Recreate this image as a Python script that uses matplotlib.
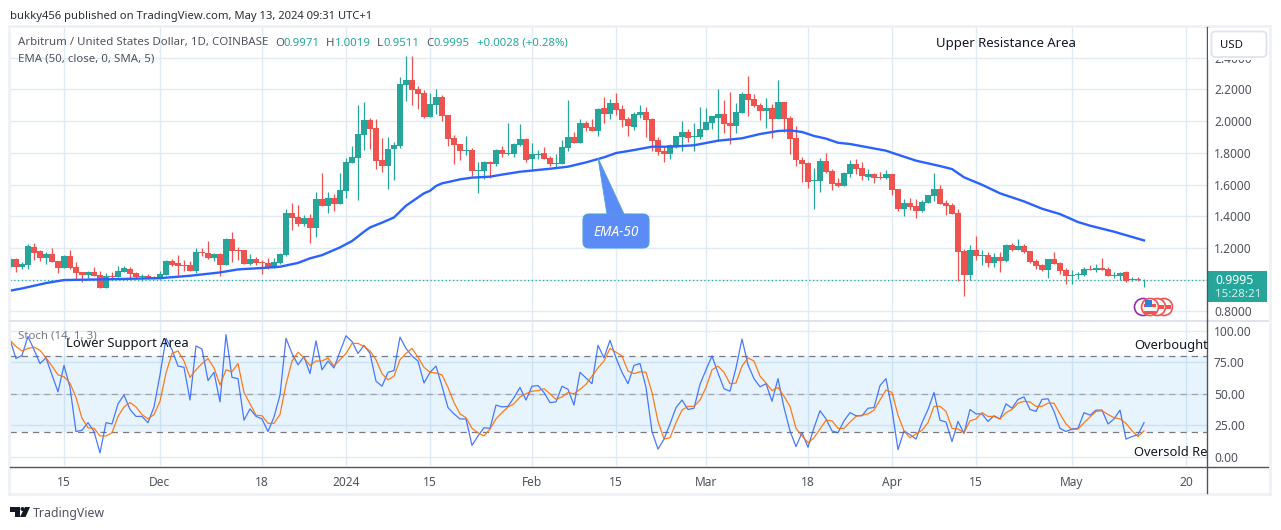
import pandas as pd
import matplotlib
matplotlib.use("Agg")
import matplotlib.pyplot as plt
from matplotlib.patches import Rectangle, FancyBboxPatch, Polygon, Circle

plt.rcParams["font.family"] = ["Noto Sans", "DejaVu Sans"]

W, H = 1281, 530

# daily candles, ARB/USD
start_date = "2023-11-06"
opens = [1.082,1.130,1.080,1.092,1.206,1.181,1.137,1.162,1.118,1.074,
    1.149,1.080,1.048,1.029,1.048,1.029,.947,1.023,1.017,1.048,
    1.067,1.042,1.017,1.023,1.017,1.004,1.029,1.118,1.105,1.092,
    1.092,1.055,1.174,1.168,1.137,1.162,1.092,1.257,1.187,1.187,
    1.099,1.130,1.111,1.105,1.074,1.105,1.155,1.421,1.395,1.351,
    1.389,1.326,1.509,1.465,1.515,1.477,1.559,1.736,1.768,1.913,
    2.007,1.957,1.755,1.717,1.824,1.843,2.228,2.260,2.203,2.178,
    2.026,2.102,2.153,2.039,1.894,1.856,1.812,1.818,1.686,1.686,
    1.742,1.730,1.818,1.793,1.793,1.850,1.888,1.761,1.787,1.799,
    1.768,1.730,1.730,1.831,1.900,1.862,1.989,1.963,1.938,2.083,
    2.045,2.115,2.077,2.014,1.963,2.039,2.058,2.014,1.881,1.812,
    1.793,1.837,1.900,1.932,1.900,1.900,1.944,1.989,2.020,2.045,
    1.989,1.970,2.052,2.171,2.140,2.102,2.064,2.083,2.014,2.121,
    2.020,1.894,1.755,1.736,1.623,1.623,1.749,1.686,1.610,1.591,
    1.667,1.730,1.705,1.648,1.667,1.648,1.642,1.667,1.572,1.446,
    1.484,1.465,1.433,1.484,1.528,1.572,1.484,1.471,1.421,1.181,
    1.030,1.187,1.149,1.156,1.105,1.143,1.118,1.219,1.187,1.213,
    1.181,1.118,1.093,1.061,1.131,1.105,1.061,1.023,1.030,1.030,
    1.067,1.061,1.074,1.067,1.023,1.023,1.049,.998,1.004,.9971]
highs = [1.149,1.134,1.111,1.225,1.231,1.187,1.174,1.200,1.118,1.155,
    1.187,1.111,1.048,1.055,1.080,1.055,1.042,1.048,1.086,1.086,
    1.080,1.048,1.036,1.036,1.023,1.055,1.124,1.130,1.155,1.124,
    1.118,1.200,1.200,1.244,1.168,1.168,1.263,1.301,1.206,1.187,
    1.162,1.143,1.124,1.137,1.137,1.168,1.446,1.484,1.471,1.408,
    1.414,1.553,1.673,1.553,1.540,1.673,1.768,1.843,2.102,2.121,
    2.020,2.014,1.894,1.900,1.869,2.279,2.411,2.411,2.222,2.197,
    2.178,2.203,2.165,2.039,1.913,1.856,1.907,1.831,1.742,1.749,
    1.749,1.824,1.843,1.989,1.862,1.982,1.894,1.862,1.818,1.837,
    1.780,1.793,1.881,2.134,1.932,2.014,2.001,2.014,2.083,2.153,
    2.140,2.178,2.102,2.026,2.058,2.102,2.089,2.020,1.900,1.837,
    1.856,1.907,2.001,1.951,1.989,2.089,2.083,2.033,2.203,2.134,
    2.184,2.115,2.184,2.285,2.171,2.115,2.146,2.108,2.260,2.121,
    2.033,1.970,1.774,1.742,1.705,1.768,1.799,1.698,1.642,1.679,
    1.755,1.761,1.742,1.698,1.673,1.679,1.692,1.667,1.572,1.509,
    1.515,1.509,1.503,1.534,1.673,1.597,1.503,1.484,1.446,1.194,
    1.219,1.276,1.187,1.175,1.168,1.175,1.225,1.231,1.257,1.225,
    1.181,1.131,1.099,1.131,1.175,1.112,1.074,1.061,1.049,1.080,
    1.093,1.099,1.137,1.080,1.049,1.049,1.055,1.017,1.017,1.0019]
lows = [1.067,1.048,1.067,1.067,1.124,1.118,1.099,1.111,1.042,1.074,
    1.067,1.004,.985,1.010,1.023,.947,.947,1.010,1.017,1.048,
    1.010,1.004,.992,1.004,1.004,1.004,1.029,1.086,1.029,1.055,
    1.055,1.042,1.149,1.130,1.118,1.023,1.092,1.111,1.124,1.099,
    1.092,1.092,1.036,1.067,1.074,1.099,1.149,1.313,1.339,1.339,
    1.231,1.269,1.465,1.421,1.433,1.477,1.515,1.736,1.503,1.818,
    1.824,1.698,1.679,1.572,1.629,1.831,2.127,2.102,2.077,2.020,
    2.026,2.045,2.001,1.843,1.730,1.755,1.787,1.654,1.547,1.635,
    1.642,1.717,1.774,1.787,1.774,1.843,1.742,1.686,1.761,1.761,
    1.717,1.705,1.730,1.812,1.862,1.862,1.938,1.938,1.907,1.989,
    2.014,2.039,1.963,1.907,1.944,2.020,1.900,1.812,1.787,1.742,
    1.761,1.831,1.812,1.869,1.812,1.888,1.944,1.951,1.875,1.925,
    1.856,1.925,2.052,2.033,2.089,2.007,1.957,1.894,2.014,1.932,
    1.793,1.717,1.616,1.578,1.446,1.553,1.673,1.566,1.585,1.591,
    1.648,1.667,1.629,1.629,1.610,1.635,1.635,1.534,1.433,1.402,
    1.440,1.389,1.427,1.484,1.496,1.478,1.408,1.414,.992,.897,
    .998,1.124,1.093,1.080,1.080,1.049,1.112,1.181,1.187,1.168,
    1.105,1.067,1.055,1.011,1.099,1.036,.973,.973,1.004,1.023,
    1.061,1.049,1.061,1.023,1.011,.998,.985,.992,.992,.9511]
closes = [1.130,1.080,1.099,1.212,1.168,1.137,1.162,1.111,1.074,1.149,
    1.074,1.042,1.029,1.048,1.023,.947,1.023,1.017,1.055,1.074,
    1.036,1.017,1.023,1.004,1.004,1.036,1.118,1.092,1.086,1.086,
    1.055,1.174,1.168,1.137,1.162,1.092,1.257,1.181,1.181,1.099,
    1.130,1.105,1.105,1.074,1.111,1.162,1.421,1.389,1.351,1.389,
    1.326,1.509,1.465,1.515,1.477,1.566,1.742,1.774,1.919,2.007,
    1.951,1.749,1.717,1.824,1.850,2.234,2.260,2.197,2.171,2.026,
    2.108,2.153,2.033,1.888,1.850,1.812,1.818,1.686,1.692,1.742,
    1.730,1.818,1.793,1.799,1.856,1.888,1.755,1.793,1.793,1.761,
    1.730,1.736,1.837,1.900,1.862,1.989,1.957,1.938,2.077,2.045,
    2.115,2.071,2.007,1.970,2.045,2.058,2.007,1.875,1.806,1.793,
    1.850,1.907,1.932,1.894,1.907,1.951,1.995,2.033,2.045,1.982,
    1.970,2.058,2.171,2.134,2.096,2.064,2.083,2.014,2.121,2.014,
    1.888,1.755,1.730,1.616,1.629,1.749,1.679,1.604,1.591,1.673,
    1.730,1.698,1.654,1.667,1.642,1.642,1.667,1.566,1.446,1.484,
    1.459,1.433,1.490,1.534,1.572,1.478,1.465,1.414,1.175,1.030,
    1.187,1.149,1.156,1.105,1.143,1.118,1.219,1.187,1.213,1.175,
    1.112,1.086,1.061,1.131,1.099,1.055,1.023,1.030,1.036,1.067,
    1.061,1.074,1.061,1.023,1.030,1.042,.992,1.004,.998,.9995]

# EMA 50, read at a number of candles
ema_idx = [0,2,4,6,9,15,25,30,35,38,42,45,48,50,52,55,57,59,60,62,64,66,68,69,70,71,72,73,75,77,80,82,85,90,93,96,99,
    101,104,107,110,114,118,122,125,128,130,132,134,136,138,140,146,147,149,151,155,157,159,162,165,169,172,175,178,
    180,184,189]
ema_val = [.931,.945,.962,.979,.998,1.002,1.010,1.025,1.046,1.065,1.074,1.082,1.106,1.135,1.155,1.204,1.244,1.303,
    1.330,1.360,1.393,1.467,1.519,1.545,1.561,1.591,1.608,1.616,1.633,1.644,1.650,1.663,1.681,1.700,1.713,1.740,1.772,
    1.799,1.818,1.839,1.839,1.848,1.877,1.892,1.919,1.938,1.942,1.932,1.907,1.890,1.864,1.856,1.814,1.801,1.776,1.751,
    1.717,1.698,1.646,1.599,1.545,1.494,1.448,1.414,1.364,1.341,1.303,1.248]

stoch_k = [93,78,80.5,95.5,85,74,78.5,65,51.5,72.5,
    55,20,21,27,20,3,27,26,42,49,
    37.5,32,32,27,39.5,65,94,85,72,71,
    45,88,85.5,60.5,67,43.5,97,63,62,29,
    38,32,30,20,31.5,49,94,82,73,79.5,
    66,92,69,76,70.5,83.5,96,91.5,82,88.5,
    82,60,56,67,68.5,95,86,80,76,58.5,
    67,72,56,39,34,30,30,9,16.5,23,
    22.5,41,39.5,40,47,55,45,56,56.5,51,
    43,43.5,56,53.5,41,67,62.5,58,88.5,78.5,
    92.5,78.5,67,58,72.5,74,55,20,6,14,
    26,39,45,37.5,38.5,57.5,69,80,66.5,54,
    52,70.5,93.5,73,62,55.5,58,44,62,39,
    20.5,8,19,7.5,23,36.5,30,20.5,19,28.5,
    35,32.5,32.5,38.5,39,56.5,62,37.5,5.5,20.5,
    17.5,14,27,37.5,51,29,27.5,12,28,18.5,
    37.5,34,34,28,32.5,30,42,38.5,45.5,47.5,
    37.5,36,45.5,46,36,22.5,20,22,22.5,35,
    33,37,37,26,30,37,14,16,17.5,27]
stoch_d = [92.5,87.5,84,86,87,84.5,78.5,72,65,63.5,
    58.5,47,30.5,23,22.5,16.5,16.5,19,32,39.5,
    43,39.5,33.5,30,33.5,44,66.5,82,84,76,
    63,69,74,78,70.5,57,69,67.5,74,51,
    42,33,32.5,26.5,26.5,33.5,57.5,76,83,78.5,
    72.5,76,76,78.5,72,77,82,90,90,87.5,
    84,77,66,61,64,77,82,86,79,71,
    67,66.5,65,55,43,34,31,22.5,19,16.5,
    22,30,35,39.5,42,47.5,50,52,52.5,54,
    50,45.5,47.5,51,50,53.5,57.5,64,70.5,76,
    86,83,80,68,66,67.5,67,51,28,14,
    15,27,37,40,40,45,55,69,72,67,
    58,58.5,72,78.5,76,64,58.5,52.5,55,48,
    40,22.5,16.5,11,15,22,29,28.5,22.5,22.5,
    27.5,32,33,34,37,45,53,51,33,20.5,
    15,18,21,27,40,40,36,22.5,22,19,
    28.5,30,35,32,32,30,35,37.5,42.5,44,
    43.5,40,40,42.5,42.5,34,26,21.5,22,27,
    31.5,36,36.5,33.5,31,30,26.5,20.5,16,20.5]

price_ticks = [0.8,1.0,1.2,1.4,1.6,1.8,2.0,2.2,2.4]
price_labels = ["0.8000","","1.2000","1.4000","1.6000","1.8000","2.0000","2.2000","2.4000"]
stoch_ticks = [0,25,50,75,100]
stoch_labels = ["0.00","25.00","50.00","75.00","100.00"]
date_ticks = ["2023-11-15","2023-12-01","2023-12-18","2024-01-01","2024-01-15","2024-02-01","2024-02-15",
    "2024-03-01","2024-03-18","2024-04-01","2024-04-15","2024-05-01","2024-05-20"]
date_labels = ["15","Dec","18","2024","15","Feb","15","Mar","18","Apr","15","May","20"]

last_price = 0.9995

TEAL = "#26a69a"
RED = "#ef5350"
GRID = "#e0ebf3"
TXT = "#50535e"

dates = pd.date_range(start_date, periods=len(opens), freq="D")
days = (dates - dates[0]).days.values
tick_days = [(pd.Timestamp(d) - dates[0]).days for d in date_ticks]


def box(left, top, right, bottom):
    return [left / W, 1 - bottom / H, (right - left) / W, (bottom - top) / H]


fig = plt.figure(figsize=(W / 100, H / 100), dpi=100, facecolor="white")

# price pane
ax = fig.add_axes(box(10, 27, 1207, 320))
ax.set_xlim(0, 1197 / 6)
ax.set_ylim(0.746, 2.594)
ax.set_xticks(tick_days)
ax.tick_params(axis="x", length=0, labelbottom=False)
ax.yaxis.tick_right()
ax.set_yticks(price_ticks)
ax.set_yticklabels(price_labels)
ax.tick_params(axis="y", length=0, labelsize=8.6, labelcolor=TXT, pad=5)
ax.grid(color=GRID, lw=1)
ax.set_axisbelow(True)

for d, o, h, l, c in zip(days, opens, highs, lows, closes):
    col = TEAL if c >= o else RED
    ax.vlines(d, l, h, color=col, lw=0.9, zorder=3)
    ax.bar(d, max(abs(c - o), 0.003), bottom=min(o, c), width=0.85, color=col, zorder=4)

ax.plot(ema_idx, ema_val, color="#2962ff", lw=1.7, zorder=5)
ax.axhline(last_price, color=TEAL, lw=0.9, ls=(0, (1, 2)), zorder=2)

# stochastic pane
ax2 = fig.add_axes(box(10, 322, 1207, 466))
ax2.set_xlim(0, 1197 / 6)
ax2.set_ylim(-7.4, 107)
ax2.set_xticks(tick_days)
ax2.set_xticklabels(date_labels)
ax2.tick_params(axis="x", length=0, labelsize=8.6, labelcolor=TXT, pad=7.5)
for lab in ax2.get_xticklabels():
    if lab.get_text() == "2024":
        lab.set_fontweight("bold")
ax2.yaxis.tick_right()
ax2.set_yticks(stoch_ticks)
ax2.set_yticklabels(stoch_labels)
ax2.tick_params(axis="y", length=0, labelsize=8.6, labelcolor=TXT, pad=5)
ax2.grid(color=GRID, lw=1)
ax2.set_axisbelow(True)
ax2.axhspan(20, 80, color="#2196f3", alpha=0.1, lw=0, zorder=1)
ax2.axhline(80, color="#787b86", lw=0.9, ls=(0, (5, 4)), zorder=2)
ax2.axhline(50, color="#a0a3ad", lw=0.9, ls=(0, (5, 4)), zorder=2)
ax2.axhline(20, color="#787b86", lw=0.9, ls=(0, (5, 4)), zorder=2)
ax2.plot(days, stoch_k, color="#2962ff", lw=0.9, alpha=0.85, zorder=3)
ax2.plot(days, stoch_d, color="#ff6d00", lw=0.9, alpha=0.9, zorder=4)

for a in (ax, ax2):
    for s in a.spines.values():
        s.set_visible(False)

# overlay in picture pixels for frame, labels and decorations
ov = fig.add_axes([0, 0, 1, 1], facecolor="none", zorder=10)
ov.set_xlim(0, W)
ov.set_ylim(H, 0)
ov.axis("off")

# frame
ov.add_patch(Rectangle((9, 26), 1261, 468, fill=False, ec="#eef1f6", lw=2))
ov.plot([10, 1268], [320.5, 320.5], color="#e0e3eb", lw=1.4)
ov.plot([10, 1268], [467, 467], color="#50535e", lw=1)
ov.plot([1207, 1207], [27, 493], color="#50535e", lw=1)

# white strip hiding the top of the 2.4000 tick, as in the picture
ov.add_patch(Rectangle((1208, 28), 60, 32, fc="white", ec="none", zorder=2))
ov.add_patch(FancyBboxPatch((1211.5, 31.5), 55, 25.5, boxstyle="round,pad=0,rounding_size=4",
                            fc="white", ec="#e0e3eb", lw=1.3, zorder=3))
ov.text(1220, 45, "USD", fontsize=8.2, color="#131722", va="center", zorder=4)

# header
ov.text(10, 16, "bukky456 published on TradingView.com, May 13, 2024 09:31 UTC+1", fontsize=8.1,
        color="#2a2e39", va="center")
ov.text(18, 43, "Arbitrum / United States Dollar, 1D, COINBASE", fontsize=8.25, color=TXT, va="center")
for x, s, col in [(275, "O", TXT), (283, "0.9971", TEAL), (326, "H", TXT), (335, "1.0019", TEAL),
                  (377, "L", TXT), (384, "0.9511", TEAL), (426, "C", TXT), (433, "0.9995", TEAL),
                  (477, "+0.0028 (+0.28%)", TEAL)]:
    ov.text(x, 43, s, fontsize=8.2, color=col, va="center")
ov.text(18, 59, "EMA (50, close, 0, SMA, 5)", fontsize=8.25, color=TXT, va="center")
ov.text(18, 336, "Stoch (14, 1, 3)", fontsize=8.25, color="#787b86", va="center")

# chart notes
ov.text(936, 43, "Upper Resistance Area", fontsize=9.5, color="#131722", va="center")
ov.text(66, 344, "Lower Support Area", fontsize=9.4, color="#131722", va="center")
ov.text(1134, 345, "Overbought", fontsize=9.3, color="#131722", va="center")
ov.text(1134, 452, "Oversold Re", fontsize=9.3, color="#131722", va="center")

# EMA-50 callout
ov.add_patch(Polygon([(598, 158), (607, 214), (624, 214)], closed=True, fc="#5b8bf7", ec="#4f9fd8", lw=0.6))
ov.add_patch(FancyBboxPatch((583, 214), 66, 34, boxstyle="round,pad=0,rounding_size=6",
                            fc="#5b8bf7", ec="#4f9fd8", lw=0.8))
ov.text(616, 232, "EMA-50", fontsize=9.8, color="white", style="italic", weight="bold", ha="center", va="center")

# last price label
ov.add_patch(Rectangle((1207, 271), 60, 31, fc=TEAL, ec="none"))
ov.text(1215, 280.5, "0.9995", fontsize=8.8, color="white", weight="bold", va="center")
ov.text(1215, 294.5, "15:28:21", fontsize=8.4, color="#d4f0ec", weight="bold", va="center")

# events badges below the last candles
ov.add_patch(Circle((1143, 307), 8.5, fc="white", ec="#9c27b0", lw=1.2, zorder=4))
for cx in (1164, 1157):
    ov.add_patch(Circle((cx, 307), 8.5, fc="white", ec=RED, lw=1.2, zorder=5))
    ov.add_patch(Rectangle((cx + 1, 305), 6, 3.5, fc=RED, ec="none", zorder=5))
ov.add_patch(Circle((1150, 307), 8.5, fc="#f6f6f6", ec=RED, lw=1.2, zorder=6))
ov.add_patch(Rectangle((1144, 304), 12, 2.5, fc=RED, ec="none", zorder=7))
ov.add_patch(Rectangle((1144, 311), 12, 2.5, fc=RED, ec="none", zorder=7))
ov.add_patch(Rectangle((1145, 300), 7, 7, fc="#2f7fe0", ec="none", zorder=8))

# footer logo and name
ov.add_patch(Polygon([(10, 507), (20, 507), (20, 517), (15, 517), (15, 511.5), (10, 511.5)], fc="#131722", ec="none"))
ov.add_patch(Circle((22.5, 509), 2, fc="#131722", ec="none"))
ov.add_patch(Polygon([(25, 507), (30, 507), (25.5, 517), (20, 517)], fc="#131722", ec="none"))
ov.text(33, 513, "TradingView", fontsize=8.9, color="#50535e", va="center")

fig.savefig("out.png", dpi=100)
